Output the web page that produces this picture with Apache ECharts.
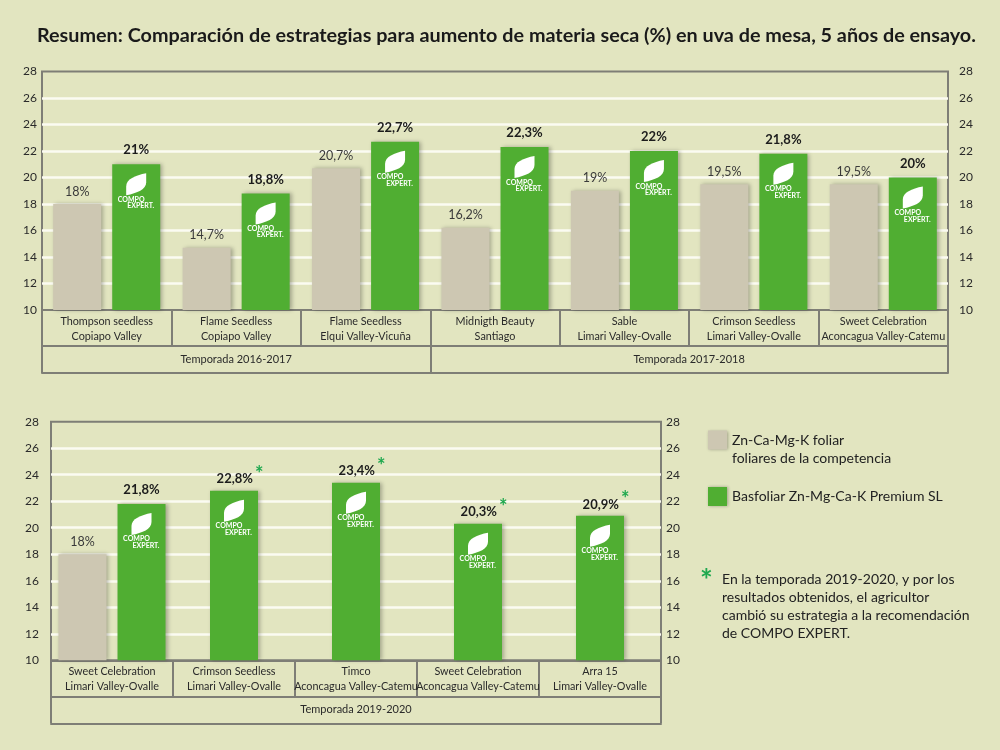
<!DOCTYPE html>
<html><head><meta charset="utf-8">
<script src="https://cdn.jsdelivr.net/npm/echarts@6/dist/echarts.min.js"></script>
<style>html,body{margin:0;padding:0;background:#e2e5c0}#c{width:1000px;height:750px}</style>
</head><body><div id="c"></div>
<script>
// ---------- data ----------
const titleText = 'Resumen: Comparación de estrategias para aumento de materia seca (%) en uva de mesa, 5 años de ensayo.';
const seriesNames = ['Zn-Ca-Mg-K foliar\nfoliares de la competencia', 'Basfoliar Zn-Mg-Ca-K Premium SL'];

const topCategories = [
  'Thompson seedless\nCopiapo Valley',
  'Flame Seedless\nCopiapo Valley',
  'Flame Seedless\nElqui Valley-Vicuña',
  'Midnigth Beauty\nSantiago',
  'Sable\nLimari Valley-Ovalle',
  'Crimson Seedless\nLimari Valley-Ovalle',
  'Sweet Celebration\nAconcagua Valley-Catemu'
];
const topCompetitor = [18, 14.7, 20.7, 16.2, 19, 19.5, 19.5];
const topCompo = [21, 18.8, 22.7, 22.3, 22, 21.8, 20];
const topSeasons = ['Temporada 2016-2017', 'Temporada 2017-2018'];
const topSeasonSpans = [3, 4];

const bottomCategories = [
  'Sweet Celebration\nLimari Valley-Ovalle',
  'Crimson Seedless\nLimari Valley-Ovalle',
  'Timco\nAconcagua Valley-Catemu',
  'Sweet Celebration\nAconcagua Valley-Catemu',
  'Arra 15\nLimari Valley-Ovalle'
];
const bottomCompetitor = [18, null, null, null, null];
const bottomCompo = [21.8, 22.8, 23.4, 20.3, 20.9];
const bottomChanged = [false, true, true, true, true];
const bottomSeasons = ['Temporada 2019-2020'];
const bottomSeasonSpans = [5];

const yMin = 10, yMax = 28, yStep = 2;
const noteText = 'En la temporada 2019-2020, y por los\nresultados obtenidos, el agricultor\ncambió su estrategia a la recomendación\nde COMPO EXPERT.';

// ---------- style ----------
const FONT = 'Lato, "Open Sans", "Noto Sans", sans-serif';
const BG = '#e2e5c0';
const BEIGE = '#cdc7b2';
const GREEN = '#50ae32';
const STAR = '#1fa84e';
const FRAME = '#7e7e76';
const TXT = '#2a2a2a';
const BAR_W = 48;
const PAIR_OFF = 29.5;
const LEAF = 'path://M0,22 L0,13 C0,6 9,2 20,0 L20,9 C20,16 11,20 0,22 Z';

const fmt = v => String(v).replace('.', ',') + '%';

function seasonAxis(gridIndex, names, spans) {
  const bounds = [0];
  spans.forEach(s => bounds.push(bounds[bounds.length - 1] + s));
  const mids = spans.map((s, i) => bounds[i] + s / 2);
  return {
    type: 'value', gridIndex, position: 'bottom', offset: 36,
    min: 0, max: bounds[bounds.length - 1],
    axisLine: { show: true, lineStyle: { color: FRAME, width: 2 } },
    axisTick: { show: true, customValues: bounds, length: 27, inside: false, lineStyle: { color: FRAME, width: 2 } },
    axisLabel: {
      show: true, customValues: mids, margin: 8, fontSize: 11, color: TXT, fontFamily: FONT,
      formatter: v => { const i = mids.findIndex(m => Math.abs(m - v) < 1e-6); return i >= 0 ? names[i] : ''; }
    },
    splitLine: { show: false }
  };
}
function borderAxis(gridIndex) {
  return {
    type: 'value', gridIndex, position: 'bottom', offset: 63, min: 0, max: 1,
    axisLine: { show: true, lineStyle: { color: FRAME, width: 2 } },
    axisTick: { show: false }, axisLabel: { show: false }, splitLine: { show: false }
  };
}
function catAxis(gridIndex, data, show) {
  return {
    type: 'category', gridIndex, position: 'bottom', data, show,
    axisLine: { show: true, lineStyle: { color: FRAME, width: 2 } },
    axisTick: { show: true, interval: 0, length: 36, lineStyle: { color: FRAME, width: 2 } },
    axisLabel: { interval: 0, fontSize: 10.8, lineHeight: 15, margin: 4, color: TXT, fontFamily: FONT }
  };
}
function yAx(gridIndex, pos, margin, split) {
  return {
    type: 'value', gridIndex, position: pos, min: yMin, max: yMax, interval: yStep,
    axisLine: { show: false }, axisTick: { show: false },
    axisLabel: { fontSize: 12, color: TXT, margin, fontFamily: FONT },
    splitLine: { show: split, showMinLine: false, showMaxLine: false, lineStyle: { color: '#fbfbf2', width: 2.5 } }
  };
}
const barShadow = { shadowColor: 'rgba(0,0,0,0.28)', shadowBlur: 4, shadowOffsetX: 2, shadowOffsetY: 0 };
const beigeLabel = { show: true, position: 'top', distance: 6, fontSize: 12.5, color: '#3a3a3a', fontFamily: FONT, formatter: p => fmt(p.value) };
const valRich = {
  v: { fontSize: 13, fontWeight: 'bold', color: '#1c1c1c', lineHeight: 16, fontFamily: FONT },
  p: { fontSize: 13, fontWeight: 'bold', color: '#1c1c1c', lineHeight: 16, fontFamily: FONT, padding: [5, 0, 0, 12] },
  s: { fontSize: 20, fontWeight: 'bold', color: STAR, lineHeight: 16, fontFamily: FONT, padding: [0, 0, 5, 2] }
};
function greenLabel(changed) {
  return {
    show: true, position: 'top', distance: 6, rich: valRich,
    formatter: p => (changed && changed[p.dataIndex]) ? '{p|' + fmt(p.value) + '}{s|*}' : '{v|' + fmt(p.value) + '}'
  };
}
const logoLabel = {
  show: true, position: 'bottom', distance: 1,
  formatter: '{a|COMPO}\n{b|EXPERT.}',
  rich: {
    a: { fontSize: 7, fontWeight: 'bold', color: '#fff', lineHeight: 6.5, fontFamily: 'Lato, sans-serif', padding: [0, 10, 0, 0] },
    b: { fontSize: 7, fontWeight: 'bold', color: '#fff', lineHeight: 6.5, fontFamily: 'Lato, sans-serif', padding: [0, 0, 0, 9] }
  }
};
function logoSeries(xAxisIndex, yAxisIndex, values, offsets) {
  return {
    type: 'scatter', xAxisIndex, yAxisIndex, silent: true, z: 5,
    symbol: LEAF, symbolSize: [20, 22],
    itemStyle: { color: '#ffffff', opacity: 1 },
    label: logoLabel,
    data: values.map((v, i) => v == null ? null : { value: v, symbolOffset: [offsets[i], 20] })
  };
}

const bottomPaired = bottomCompo.map((v, i) => bottomCompetitor[i] != null ? v : null);
const bottomSolo = bottomCompo.map((v, i) => bottomCompetitor[i] == null ? v : null);

const option = {
  animation: false,
  backgroundColor: BG,
  textStyle: { fontFamily: FONT },
  title: {
    text: titleText, left: 32, top: 21,
    textStyle: { fontSize: 19.8, fontWeight: 'bold', color: '#1a1a1a', fontFamily: FONT }
  },
  legend: [
    { data: [seriesNames[0]], left: 703, top: 408, orient: 'vertical', icon: 'rect', itemWidth: 19, itemHeight: 19,
      formatter: n => ' \n' + n,
      itemStyle: { shadowColor: 'rgba(0,0,0,0.3)', shadowBlur: 3, shadowOffsetX: 1 },
      textStyle: { fontSize: 14, color: '#222', lineHeight: 18, fontFamily: FONT }, selectedMode: false },
    { data: [seriesNames[1]], left: 703, top: 482, orient: 'vertical', icon: 'rect', itemWidth: 19, itemHeight: 19,
      itemStyle: { shadowColor: 'rgba(0,0,0,0.3)', shadowBlur: 3, shadowOffsetX: 1 },
      textStyle: { fontSize: 14, color: '#222', fontFamily: FONT }, selectedMode: false }
  ],
  grid: [
    { left: 42, right: 52, top: 71.5, height: 238.5, show: true, borderColor: FRAME, borderWidth: 2, backgroundColor: 'transparent' },
    { left: 51, right: 339, top: 421.7, height: 238.6, show: true, borderColor: FRAME, borderWidth: 2, backgroundColor: 'transparent' }
  ],
  xAxis: [
    catAxis(0, topCategories, true),
    seasonAxis(0, topSeasons, topSeasonSpans),
    borderAxis(0),
    catAxis(1, bottomCategories, true),
    catAxis(1, bottomCategories, false),
    seasonAxis(1, bottomSeasons, bottomSeasonSpans),
    borderAxis(1)
  ],
  yAxis: [
    yAx(0, 'left', 5, true), yAx(0, 'right', 11, false),
    yAx(1, 'left', 12, true), yAx(1, 'right', 5, false)
  ],
  series: [
    { type: 'bar', name: seriesNames[0], xAxisIndex: 0, yAxisIndex: 0, data: topCompetitor, barWidth: BAR_W, barGap: '23%',
      itemStyle: Object.assign({ color: BEIGE }, barShadow), label: beigeLabel },
    { type: 'bar', name: seriesNames[1], xAxisIndex: 0, yAxisIndex: 0, data: topCompo, barWidth: BAR_W, barGap: '23%',
      itemStyle: Object.assign({ color: GREEN }, barShadow), label: greenLabel(null) },
    logoSeries(0, 0, topCompo, topCompo.map(() => PAIR_OFF)),

    { type: 'bar', name: seriesNames[0], xAxisIndex: 3, yAxisIndex: 2, data: bottomCompetitor, barWidth: BAR_W, barGap: '23%',
      itemStyle: Object.assign({ color: BEIGE }, barShadow), label: beigeLabel },
    { type: 'bar', name: seriesNames[1], xAxisIndex: 3, yAxisIndex: 2, data: bottomPaired, barWidth: BAR_W, barGap: '23%',
      itemStyle: Object.assign({ color: GREEN }, barShadow), label: greenLabel(bottomChanged) },
    { type: 'bar', name: seriesNames[1], xAxisIndex: 4, yAxisIndex: 2, data: bottomSolo, barWidth: BAR_W,
      itemStyle: Object.assign({ color: GREEN }, barShadow), label: greenLabel(bottomChanged) },
    logoSeries(3, 2, bottomCompo, bottomCompetitor.map(c => c != null ? PAIR_OFF : 0))
  ],
  graphic: [
    { type: 'text', left: 700, top: 566, style: { text: '*', fontSize: 30, fontWeight: 'bold', fill: STAR, fontFamily: FONT } },
    { type: 'text', left: 722, top: 570, style: { text: noteText, fontSize: 14, lineHeight: 18, fill: '#222', fontFamily: FONT } }
  ]
};
const chart = echarts.init(document.getElementById('c'), null, { renderer: 'canvas' });
chart.setOption(option);
</script>
</body></html>
